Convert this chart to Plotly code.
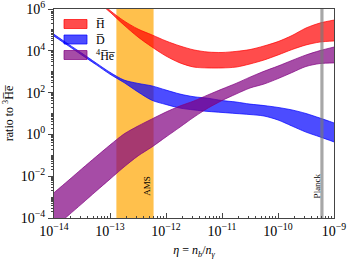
import numpy as np
import plotly.graph_objects as go

# ---------------- data ----------------
# sample points in log10(eta)
log_eta = [-14.0, -13.75, -13.5, -13.25, -13.0, -12.75, -12.5, -12.25, -12.0,
           -11.75, -11.5, -11.25, -11.0, -10.75, -10.5, -10.25, -10.0,
           -9.75, -9.5, -9.25, -9.0]

# log10 of ratio to anti-3He, upper / lower edges of each band
hbar_upper = [8.3, 7.7, 7.1, 6.55, 5.93, 5.43, 5.04, 4.76, 4.47, 4.23, 4.04,
              3.94, 3.92, 3.97, 4.06, 4.23, 4.44, 4.73, 5.09, 5.33, 5.47]
hbar_lower = [8.0, 7.4, 6.85, 6.4, 5.85, 5.23, 4.66, 4.18, 3.75, 3.42, 3.22,
              3.18, 3.18, 3.22, 3.37, 3.56, 3.80, 4.06, 4.28, 4.42, 4.47]

dbar_upper = [4.79, 4.33, 3.88, 3.42, 2.97, 2.60, 2.44, 2.32, 2.12, 1.93, 1.80,
              1.73, 1.62, 1.55, 1.45, 1.38, 1.29, 1.17, 1.00, 0.78, 0.55]
dbar_lower = [4.70, 4.25, 3.79, 3.34, 2.88, 2.48, 2.03, 1.63, 1.43, 1.26, 1.17,
              1.10, 1.05, 1.00, 0.95, 0.88, 0.69, 0.40, 0.11, -0.12, -0.36]

he4_upper = [-2.79, -2.22, -1.64, -1.07, -0.51, 0.02, 0.40, 0.74, 1.07, 1.36,
             1.60, 1.89, 2.17, 2.44, 2.74, 3.02, 3.27, 3.54, 3.80, 4.01, 4.18]
he4_lower = [-4.47, -3.89, -3.31, -2.72, -2.14, -1.56, -1.03, -0.60, -0.12, 0.35,
             0.83, 1.26, 1.62, 1.93, 2.22, 2.41, 2.67, 2.96, 3.25, 3.39, 3.42]

# vertical bands (eta ranges)
ams_range = [1.3e-13, 6.0e-13]
planck_range = [5.7e-10, 6.5e-10]
ams_label_eta = 4.6e-13
planck_label_eta = 4.9e-10
band_label_ratio = 3.5e-3

series_names = ["H\u0305", "D\u0305", "<sup>4</sup>H\u0305e\u0305"]

x_tickvals = [1e-14, 1e-13, 1e-12, 1e-11, 1e-10, 1e-9]
x_ticktext = ["10<sup>\u221214</sup>", "10<sup>\u221213</sup>", "10<sup>\u221212</sup>",
              "10<sup>\u221211</sup>", "10<sup>\u221210</sup>", "10<sup>\u22129</sup>"]
y_tickvals = [1e-4, 1e-2, 1e0, 1e2, 1e4, 1e6]
y_ticktext = ["10<sup>\u22124</sup>", "10<sup>\u22122</sup>", "10<sup>0</sup>",
              "10<sup>2</sup>", "10<sup>4</sup>", "10<sup>6</sup>"]

# ---------------- figure ----------------
FONT = "Liberation Serif"
eta = [10 ** v for v in log_eta]
Y_LO, Y_HI = 1e-4, 1e6

fig = go.Figure()

# AMS band
fig.add_trace(go.Scatter(
    x=[ams_range[0], ams_range[1], ams_range[1], ams_range[0]],
    y=[Y_LO, Y_LO, Y_HI, Y_HI], fill="toself", mode="none",
    fillcolor="rgba(255,165,0,0.7)", showlegend=False, hoverinfo="skip"))

colors = ["rgba(255,0,0,0.7)", "rgba(0,0,255,0.7)", "rgba(128,0,128,0.7)"]
bands = [(hbar_upper, hbar_lower), (dbar_upper, dbar_lower), (he4_upper, he4_lower)]

for (up, lo), col, name in zip(bands, colors, series_names):
    fig.add_trace(go.Scatter(
        x=eta, y=[10 ** v for v in lo], mode="lines",
        line=dict(color=col, width=1, shape="spline", smoothing=0.8),
        showlegend=False, hoverinfo="skip"))
    fig.add_trace(go.Scatter(
        x=eta, y=[10 ** v for v in up], mode="lines", fill="tonexty",
        fillcolor=col, line=dict(color=col, width=1, shape="spline", smoothing=0.8),
        name=name, showlegend=False))

# Planck band
fig.add_trace(go.Scatter(
    x=[planck_range[0], planck_range[1], planck_range[1], planck_range[0]],
    y=[Y_LO, Y_LO, Y_HI, Y_HI], fill="toself", mode="none",
    fillcolor="rgba(120,120,120,0.65)", showlegend=False, hoverinfo="skip"))

# plot-area geometry (pixels)
W, H = 353, 259
L, R, T, B = 54, 19, 9, 41
pw, ph = W - L - R, H - T - B


def px2paper(px, py):
    return (px - L) / pw, (H - B - py) / ph


# manual legend
shapes = []
annotations = []
row_y = [24, 39.5, 55]
for yc, col, name in zip(row_y, colors, series_names):
    x0, y0 = px2paper(64, yc + 4.5)
    x1, y1 = px2paper(87, yc - 4.5)
    shapes.append(dict(type="rect", xref="paper", yref="paper", x0=x0, x1=x1,
                       y0=y0, y1=y1, fillcolor=col, line=dict(color=col, width=1)))
    tx, ty = px2paper(94, yc)
    annotations.append(dict(xref="paper", yref="paper", x=tx, y=ty, text=name,
                            showarrow=False, xanchor="left", yanchor="middle",
                            font=dict(family=FONT, size=12, color="black")))

annotations.append(dict(x=np.log10(ams_label_eta), y=np.log10(band_label_ratio),
                        text="AMS", textangle=-90, showarrow=False,
                        font=dict(family=FONT, size=9, color="black")))
annotations.append(dict(x=np.log10(planck_label_eta), y=np.log10(band_label_ratio),
                        text="Planck", textangle=-90, showarrow=False,
                        font=dict(family=FONT, size=9, color="black")))

minor_x = [m * 10.0 ** k for k in range(-14, -9) for m in range(2, 10)]
minor_y = [m * 10.0 ** k for k in range(-4, 6) for m in range(1, 10)
           if not (m == 1 and k % 2 == 0)]

axis_common = dict(showline=True, linecolor="#444", linewidth=1, mirror=True,
                   showgrid=False, zeroline=False, automargin=False,
                   ticklabeloverflow="allow",
                   tickfont=dict(family=FONT, size=14, color="black"))

fig.update_layout(
    width=W, height=H,
    margin=dict(l=L, r=R, t=T, b=B),
    paper_bgcolor="white", plot_bgcolor="white",
    showlegend=False,
    shapes=shapes, annotations=annotations,
    xaxis=dict(type="log", range=[-14, -9], tickmode="array",
               tickvals=x_tickvals, ticktext=x_ticktext,
               ticks="inside", ticklen=5, tickcolor="#444",
               minor=dict(tickmode="array", tickvals=minor_x, ticks="inside",
                          ticklen=2.5, tickcolor="#444"),
               title=dict(text="<i>\u03b7</i> = <i>n</i><sub><i>b</i></sub>/<i>n</i><sub><i>\u03b3</i></sub>",
                          font=dict(family=FONT, size=12, color="black"), standoff=10),
               **axis_common),
    yaxis=dict(type="log", range=[-4, 6], tickmode="array",
               tickvals=y_tickvals, ticktext=y_ticktext,
               ticks="outside", ticklen=5, tickcolor="#444",
               minor=dict(tickmode="array", tickvals=minor_y, ticks="outside",
                          ticklen=2.5, tickcolor="#444"),
               title=dict(text="ratio to <sup>3</sup>H\u0305e\u0305",
                          font=dict(family=FONT, size=12, color="black"), standoff=4),
               **axis_common),
)

fig.write_html("out.html", config={"displayModeBar": False},
               post_script="document.body.style.margin='0';document.body.style.padding='0';")
